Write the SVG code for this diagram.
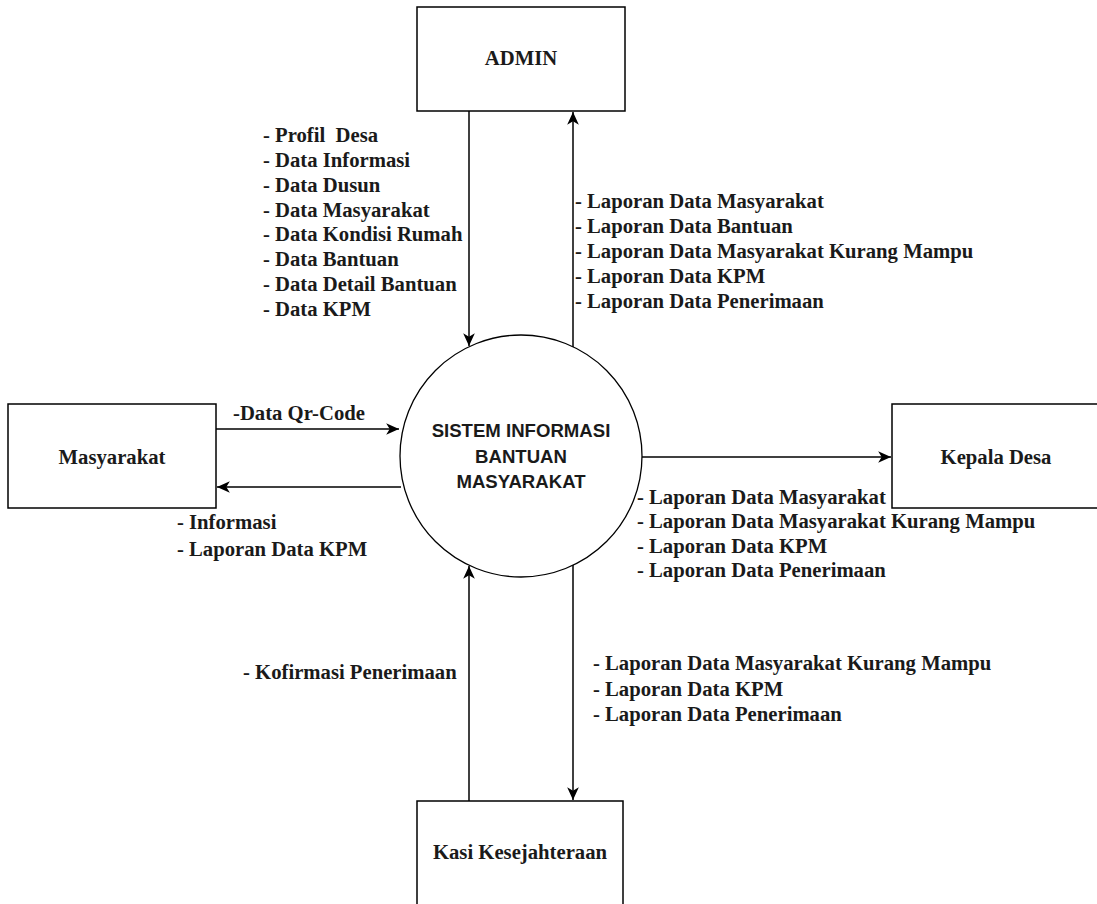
<svg xmlns="http://www.w3.org/2000/svg" width="1097" height="904" viewBox="0 0 1097 904">
<style>
.box{fill:#fff;stroke:#000;stroke-width:1.5}
.ln{fill:none;stroke:#000;stroke-width:1.5}
.t{font-family:"Liberation Serif","Times New Roman",serif;font-size:20.7px;font-weight:bold;fill:#1a1a1a;white-space:pre}
.c{text-anchor:middle}
.s{font-family:"Liberation Sans",Arial,sans-serif;font-size:18.6px;font-weight:bold;fill:#1a1a1a;text-anchor:middle}
</style>
<defs>
<marker id="ar" markerUnits="userSpaceOnUse" markerWidth="14" markerHeight="12" refX="11" refY="5" orient="auto" viewBox="0 0 12 10">
<path d="M0,0 L11,5 L0,10 L3,5 z" fill="#000"/>
</marker>
</defs>
<g id="connectors">
<line class="ln" x1="469" y1="111" x2="469" y2="346" marker-end="url(#ar)"/>
<line class="ln" x1="573" y1="347" x2="573" y2="112" marker-end="url(#ar)"/>
<line class="ln" x1="216" y1="429" x2="399" y2="429" marker-end="url(#ar)"/>
<line class="ln" x1="401" y1="487" x2="217" y2="487" marker-end="url(#ar)"/>
<line class="ln" x1="642" y1="457" x2="891" y2="457" marker-end="url(#ar)"/>
<line class="ln" x1="469" y1="801" x2="469" y2="566" marker-end="url(#ar)"/>
<line class="ln" x1="573" y1="565" x2="573" y2="800" marker-end="url(#ar)"/>
</g>
<g id="labels">
<text class="t" x="263" y="142" xml:space="preserve">- Profil  Desa</text>
<text class="t" x="263" y="167">- Data Informasi</text>
<text class="t" x="263" y="192">- Data Dusun</text>
<text class="t" x="263" y="217">- Data Masyarakat</text>
<text class="t" x="263" y="241">- Data Kondisi Rumah</text>
<text class="t" x="263" y="266">- Data Bantuan</text>
<text class="t" x="263" y="291">- Data Detail Bantuan</text>
<text class="t" x="263" y="316">- Data KPM</text>
<text class="t" x="575" y="208">- Laporan Data Masyarakat</text>
<text class="t" x="575" y="233">- Laporan Data Bantuan</text>
<text class="t" x="575" y="258">- Laporan Data Masyarakat Kurang Mampu</text>
<text class="t" x="575" y="283">- Laporan Data KPM</text>
<text class="t" x="575" y="308">- Laporan Data Penerimaan</text>
<text class="t" x="233" y="420">-Data Qr-Code</text>
<text class="t" x="177" y="529">- Informasi</text>
<text class="t" x="177" y="556">- Laporan Data KPM</text>
<text class="t" x="637" y="504">- Laporan Data Masyarakat</text>
<text class="t" x="637" y="528">- Laporan Data Masyarakat Kurang Mampu</text>
<text class="t" x="637" y="553">- Laporan Data KPM</text>
<text class="t" x="637" y="577">- Laporan Data Penerimaan</text>
<text class="t" x="243" y="679">- Kofirmasi Penerimaan</text>
<text class="t" x="593" y="670">- Laporan Data Masyarakat Kurang Mampu</text>
<text class="t" x="593" y="696">- Laporan Data KPM</text>
<text class="t" x="593" y="721">- Laporan Data Penerimaan</text>
</g>
<g id="admin">
<rect class="box" x="417" y="7" width="208" height="104"/>
<text class="t c" x="521" y="65">ADMIN</text>
</g>
<g id="masyarakat">
<rect class="box" x="8" y="404" width="208" height="104"/>
<text class="t c" x="112" y="464">Masyarakat</text>
</g>
<g id="kepala-desa">
<rect class="box" x="892" y="404" width="208" height="104"/>
<text class="t c" x="996" y="464">Kepala Desa</text>
</g>
<g id="kasi">
<rect class="box" x="417" y="801" width="206" height="110"/>
<text class="t c" x="520" y="859">Kasi Kesejahteraan</text>
</g>
<g id="sistem">
<circle fill="#fff" stroke="#000" stroke-width="1.3" cx="521" cy="456" r="121"/>
<text class="s" x="521" y="437">SISTEM INFORMASI</text>
<text class="s" x="521" y="463">BANTUAN</text>
<text class="s" x="521" y="488">MASYARAKAT</text>
</g>
</svg>
